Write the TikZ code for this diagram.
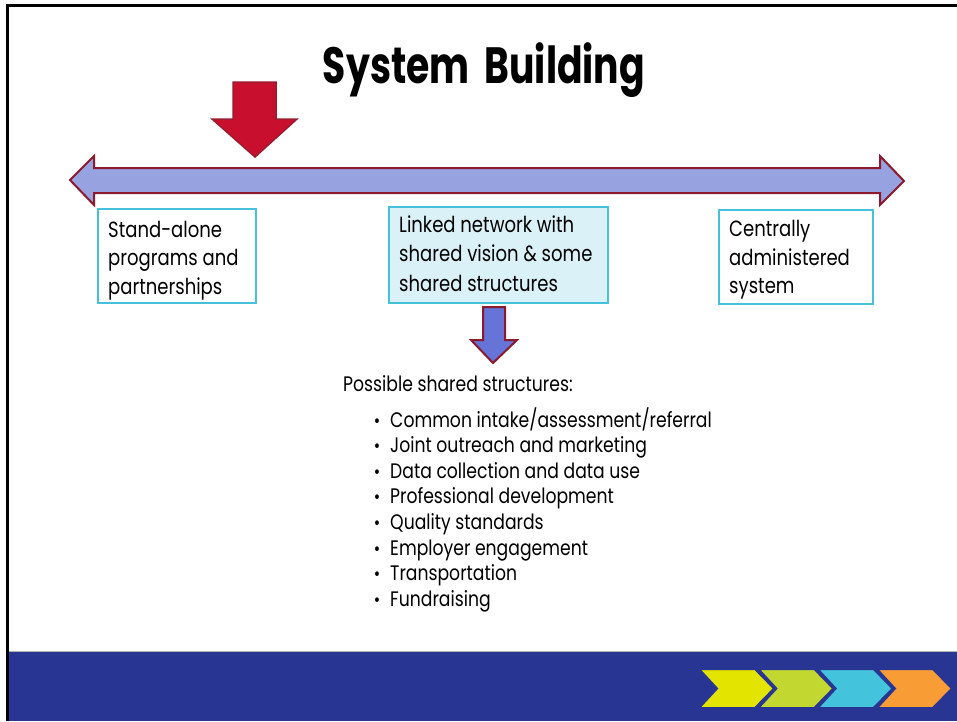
\documentclass[tikz,border=0pt]{standalone}
\usepackage{fontspec}
\setmainfont{Poppins}[FakeStretch=0.82]
\newfontfamily\titlefont{Poppins}[FakeStretch=0.74]
\definecolor{crim}{HTML}{C8102E}
\definecolor{crimline}{HTML}{9B1B30}
\definecolor{peri}{HTML}{97A2E0}
\definecolor{darkred}{HTML}{8B1A2E}
\definecolor{cyanline}{HTML}{45C1DA}
\definecolor{lightcyan}{HTML}{DAF1F7}
\definecolor{bluearrow}{HTML}{6574D6}
\definecolor{barblue}{HTML}{283592}
\definecolor{chevA}{HTML}{E3E500}
\definecolor{chevB}{HTML}{C2D72F}
\definecolor{chevC}{HTML}{43C3DC}
\definecolor{chevD}{HTML}{F89D35}
\tikzset{
  boxshape/.style={draw=cyanline, line width=2pt, anchor=north west, inner sep=0pt},
  boxtxt/.style={font=\fontsize{22}{25}\selectfont, anchor=base west, inner sep=0pt},
  listtxt/.style={font=\fontsize{21}{24}\selectfont, anchor=base west, inner sep=0pt},
  arrowshape/.style={line width=2pt, draw=darkred, line join=miter},
  chev/.style={draw=barblue, line width=2pt, line join=miter}
}
\begin{document}
\begin{tikzpicture}[x=1pt,y=-1pt]
\useasboundingbox (0,0) rectangle (957,721);
% slide frame
\draw[line width=3pt] (7.5,721) -- (7.5,5.5) -- (957,5.5);
\fill[barblue] (9,652) rectangle (957,721);
\draw[gray!60, line width=0.8pt] (9,651.5) -- (957,651.5);
% title
\node[font=\titlefont\bfseries\fontsize{51}{60}\selectfont, anchor=base, inner sep=0pt] (title) at (484,83) {System\hspace{7pt} Building};
% double arrow
\draw[arrowshape, fill=peri] (70,180) -- (94,156) -- (94,168) -- (880,168) -- (880,156) -- (904,181) -- (880,205) -- (880,193) -- (94,193) -- (94,205) -- cycle;
% red down arrow
\draw[line width=1.5pt, draw=crimline, fill=crim, line join=miter] (233,82) -- (276,82) -- (276,119) -- (297,119) -- (255,157) -- (212,119) -- (233,119) -- cycle;
% boxes
\node[boxshape, fill=white, minimum width=158pt, minimum height=94pt] (b1) at (97,208) {};
\node[boxshape, fill=lightcyan, minimum width=219pt, minimum height=96pt] (b2) at (388,206) {};
\node[boxshape, fill=white, minimum width=154pt, minimum height=94pt] (b3) at (718,209) {};
\node[boxtxt] (b1a) at (108,237) {Stand-alone};
\node[boxtxt] (b1b) at (108,265.5) {programs and};
\node[boxtxt] (b1c) at (108,294) {partnerships};
\node[boxtxt] (b2a) at (399,232) {Linked network with};
\node[boxtxt] (b2b) at (399,261.5) {shared vision \& some};
\node[boxtxt] (b2c) at (399,291) {shared structures};
\node[boxtxt] (b3a) at (729,236) {Centrally};
\node[boxtxt] (b3b) at (729,265) {administered};
\node[boxtxt] (b3c) at (729,293.5) {system};
% small blue arrow
\draw[arrowshape, fill=bluearrow] (483,307) -- (505,307) -- (505,340) -- (517,340) -- (493,363) -- (471,340) -- (483,340) -- cycle;
% list
\node[listtxt] (head) at (343,391) {Possible shared structures:};
\foreach \t [count=\i] in {Common intake/assessment/referral, Joint outreach and marketing, Data collection and data use, Professional development, Quality standards, Employer engagement, Transportation, Fundraising}{
  \node[listtxt] (it\i) at (390,{427+25.6*(\i-1)}) {\t};
  \node[listtxt, anchor=base, font=\fontsize{19}{24}\selectfont] (bu\i) at (377,{427+25.6*(\i-1)}) {\textbullet};
}
% chevrons
\foreach \c [count=\i] in {chevA,chevB,chevC,chevD}{
  \pgfmathsetmacro{\xx}{699+59.3*(\i-1)}
  \draw[chev, fill=\c] (\xx,669) -- ({\xx+56},669) -- ({\xx+75},688.5) -- ({\xx+56},708) -- (\xx,708) -- ({\xx+18},688.5) -- cycle;
}
\end{tikzpicture}
\end{document}
